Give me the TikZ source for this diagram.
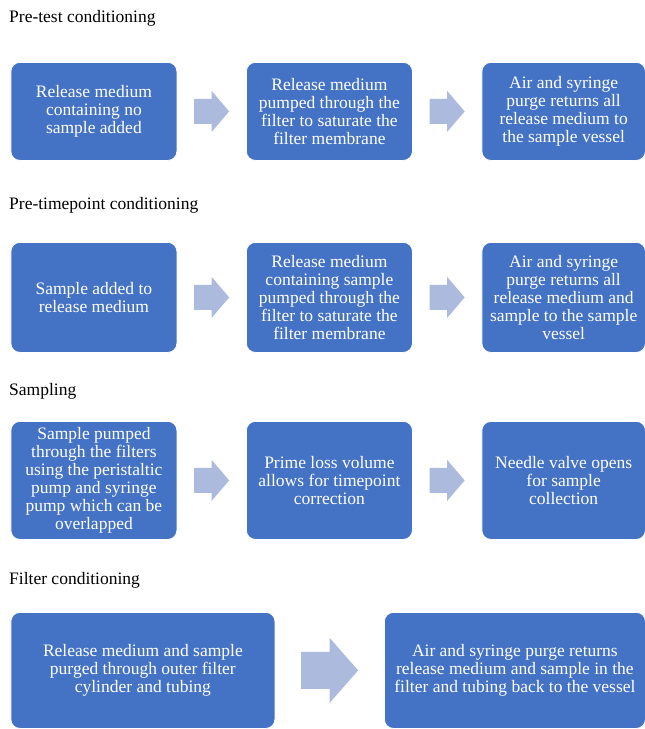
\documentclass[tikz,border=0pt]{standalone}
\usepackage{fontspec}
\setmainfont{Liberation Serif}
\usetikzlibrary{calc}
\definecolor{boxblue}{RGB}{68,114,196}
\definecolor{arrowblue}{RGB}{172,186,222}
%% block arrow between two boxes: from, to, half length, half shaft, half head
\newcommand{\blkarrow}[5]{%
	\fill[arrowblue] ($(#1.east)!0.5!(#2.west)$) ++(-#3,-#4) -- ++(#3,0) -- ++(0,#4-#5) -- ++(#3,#5) -- ++(-#3,#5) -- ++(0,#4-#5) -- ++(-#3,0) -- cycle;}
\begin{document}
\begin{tikzpicture}[x=1pt,y=-1pt,line join=round]
	\tikzset{txt/.style={font=\fontsize{17.5}{18}\selectfont},
		title/.style={txt,anchor=west,inner sep=0pt},
		box/.style={txt,anchor=north west,rounded corners=9pt,fill=boxblue,draw=white,line width=0.8pt,text=white,align=center,inner sep=0pt}}
	%%Kich thuoc
	\def \bw{166}
	\def \bwl{163.5}
	\useasboundingbox (0,0) rectangle (645,729);
	%%Pre-test conditioning
	\node[title] (t1) at (9,18) {Pre-test conditioning};
	\node[box,minimum width=\bw,minimum height=98] (a1) at (10.5,62) {Release medium\\containing no\\sample added};
	\node[box,minimum width=\bw,minimum height=98] (a2) at (246,62) {Release medium\\pumped through the\\filter to saturate the\\filter membrane};
	\node[box,minimum width=\bwl,minimum height=98] (a3) at (481.5,62) {Air and syringe\\purge returns all\\release medium to\\the sample vessel};
	\blkarrow{a1}{a2}{17.5}{12.5}{20.5}
	\blkarrow{a2}{a3}{17.5}{12.5}{20.5}
	%%Pre-timepoint conditioning
	\node[title] (t2) at (9,205) {Pre-timepoint conditioning};
	\node[box,minimum width=\bw,minimum height=110] (b1) at (10.5,242) {Sample added to\\release medium};
	\node[box,minimum width=\bw,minimum height=110] (b2) at (246,242) {Release medium\\containing sample\\pumped through the\\filter to saturate the\\filter membrane};
	\node[box,minimum width=\bwl,minimum height=110] (b3) at (481.5,242) {Air and syringe\\purge returns all\\release medium and\\sample to the sample\\vessel};
	\blkarrow{b1}{b2}{17.5}{12.5}{20.5}
	\blkarrow{b2}{b3}{17.5}{12.5}{20.5}
	%%Sampling
	\node[title] (t3) at (9,391.5) {Sampling};
	\node[box,minimum width=\bw,minimum height=118] (c1) at (10.5,421) {Sample pumped\\through the filters\\using the peristaltic\\pump and syringe\\pump which can be\\overlapped};
	\node[box,minimum width=\bw,minimum height=118] (c2) at (246,421) {Prime loss volume\\allows for timepoint\\correction};
	\node[box,minimum width=\bwl,minimum height=118] (c3) at (481.5,421) {Needle valve opens\\for sample\\collection};
	\blkarrow{c1}{c2}{17.5}{12.5}{20.5}
	\blkarrow{c2}{c3}{17.5}{12.5}{20.5}
	%%Filter conditioning
	\node[title] (t4) at (9,580.5) {Filter conditioning};
	\node[box,minimum width=264,minimum height=116] (d1) at (10.5,612) {Release medium and sample\\purged through outer filter\\cylinder and tubing};
	\node[box,minimum width=261,minimum height=116] (d2) at (384,612) {Air and syringe purge returns\\release medium and sample in the\\filter and tubing back to the vessel};
	\blkarrow{d1}{d2}{28.5}{18.5}{32.5}
\end{tikzpicture}
\end{document}
